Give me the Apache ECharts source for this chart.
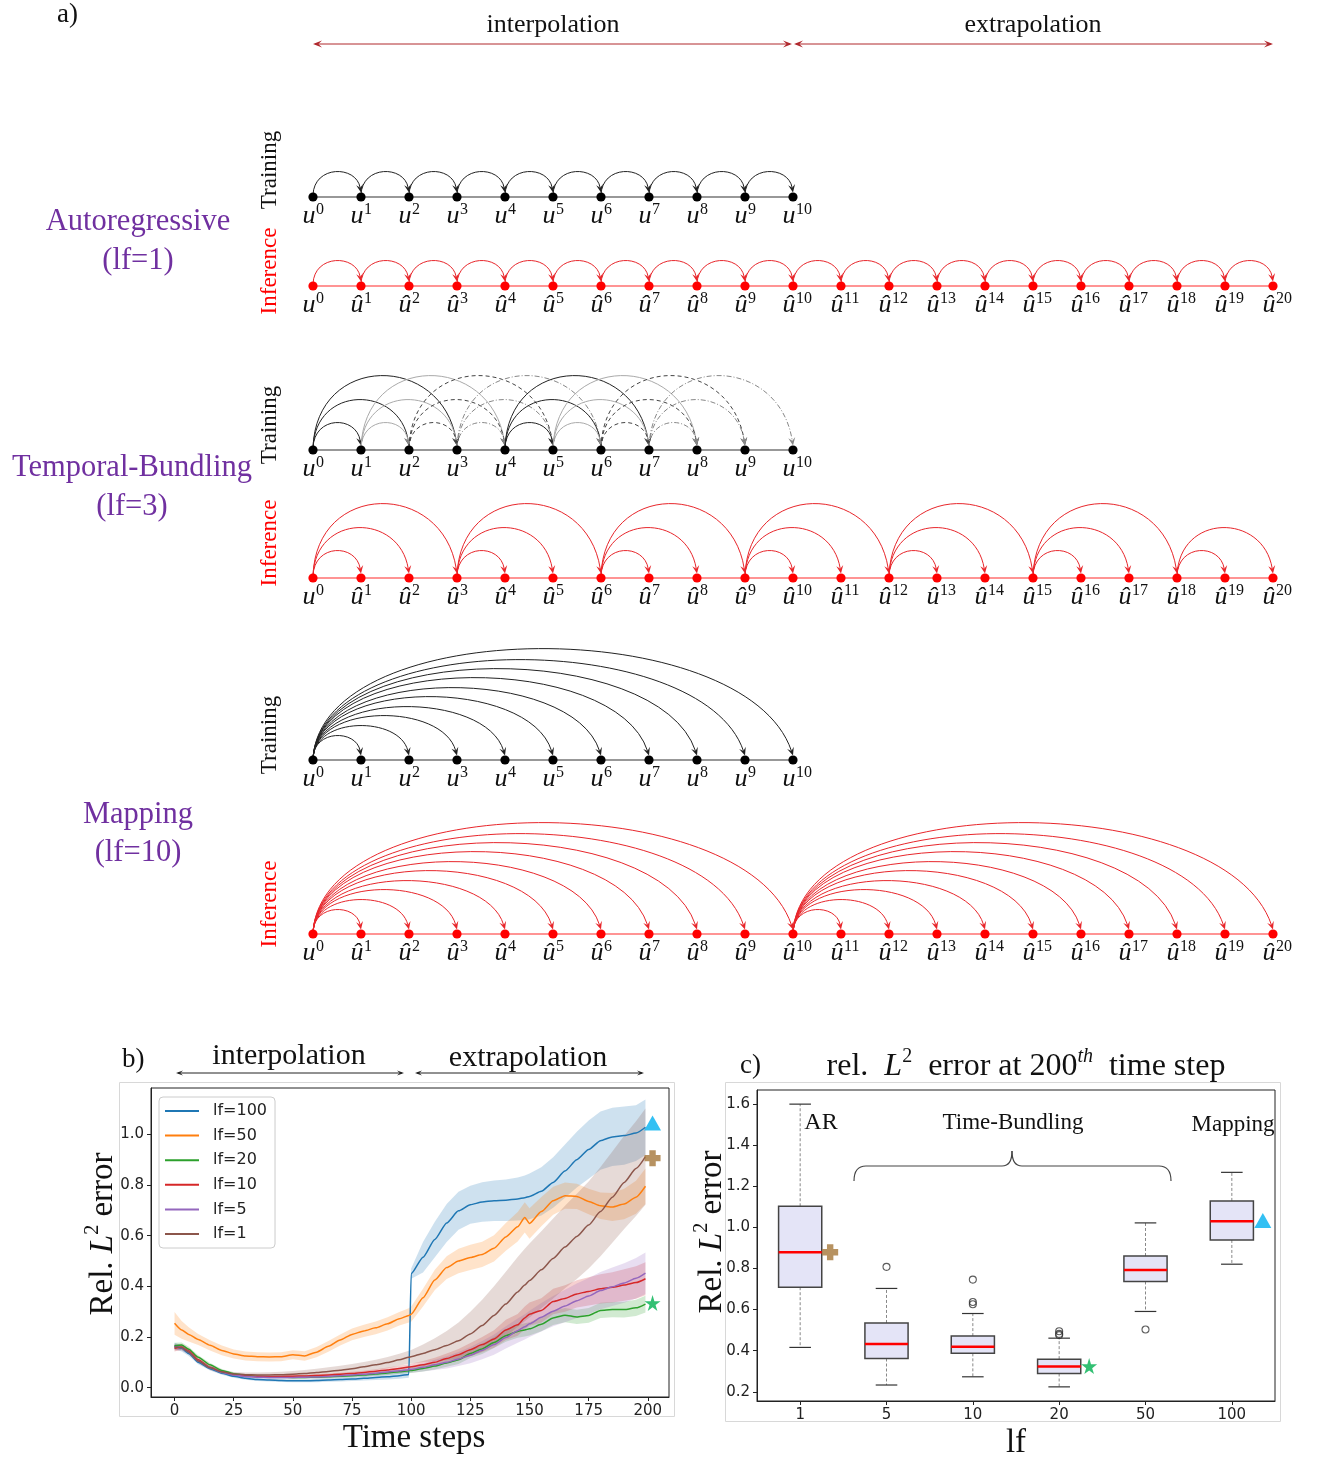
<!DOCTYPE html>
<html><head><meta charset="utf-8">
<script src="https://cdn.jsdelivr.net/npm/echarts@6/dist/echarts.min.js"></script>
<style>html,body{margin:0;padding:0;background:#fff}#c{width:1321px;height:1458px}</style>
</head><body><div id="c"></div><script>
// ---------------- DATA ----------------
// Panel a: time-step nodes and dependency edges [from, to]
const trainNodes = [0,1,2,3,4,5,6,7,8,9,10];
const inferNodes = [0,1,2,3,4,5,6,7,8,9,10,11,12,13,14,15,16,17,18,19,20];
const arTrainEdges = [[0,1],[1,2],[2,3],[3,4],[4,5],[5,6],[6,7],[7,8],[8,9],[9,10]];
const arInferEdges = [[0,1],[1,2],[2,3],[3,4],[4,5],[5,6],[6,7],[7,8],[8,9],[9,10],[10,11],[11,12],[12,13],[13,14],[14,15],[15,16],[16,17],[17,18],[18,19],[19,20]];
const tbTrainEdges = [[0,1],[0,2],[0,3],[1,2],[1,3],[1,4],[2,3],[2,4],[2,5],[3,4],[3,5],[3,6],[4,5],[4,6],[4,7],[5,6],[5,7],[5,8],[6,7],[6,8],[6,9],[7,8],[7,9],[7,10]];
const tbInferEdges = [[0,1],[0,2],[0,3],[3,4],[3,5],[3,6],[6,7],[6,8],[6,9],[9,10],[9,11],[9,12],[12,13],[12,14],[12,15],[15,16],[15,17],[15,18],[18,19],[18,20]];
const mapTrainEdges = [[0,1],[0,2],[0,3],[0,4],[0,5],[0,6],[0,7],[0,8],[0,9],[0,10]];
const mapInferEdges = [[0,1],[0,2],[0,3],[0,4],[0,5],[0,6],[0,7],[0,8],[0,9],[0,10],[10,11],[10,12],[10,13],[10,14],[10,15],[10,16],[10,17],[10,18],[10,19],[10,20]];

// Panel b: time steps, mean rel. L2 error and half band width per lf
const steps = [0,3,6,10,15,20,25,30,35,40,45,50,55,60,65,70,75,80,85,90,95,99,100,105,110,115,120,125,130,135,140,145,148,150,155,160,165,170,175,180,185,190,195,199];
const lfNames = ['lf=100','lf=50','lf=20','lf=10','lf=5','lf=1'];
const m100 = [0.165,0.155,0.135,0.100,0.075,0.057,0.045,0.037,0.032,0.030,0.028,0.027,0.027,0.028,0.030,0.032,0.034,0.037,0.040,0.043,0.047,0.052,0.450,0.515,0.585,0.650,0.698,0.722,0.733,0.738,0.740,0.745,0.750,0.755,0.775,0.810,0.855,0.900,0.940,0.975,0.990,0.995,1.005,1.028];
const s100 = [0.012,0.012,0.010,0.008,0.007,0.006,0.006,0.006,0.006,0.006,0.006,0.006,0.006,0.007,0.007,0.008,0.008,0.009,0.010,0.011,0.012,0.013,0.020,0.060,0.070,0.075,0.075,0.075,0.078,0.080,0.082,0.085,0.088,0.090,0.095,0.100,0.105,0.110,0.115,0.115,0.115,0.115,0.110,0.110];
const m50 = [0.254,0.228,0.210,0.190,0.167,0.147,0.133,0.125,0.122,0.121,0.122,0.130,0.125,0.140,0.163,0.188,0.210,0.224,0.236,0.252,0.272,0.285,0.290,0.355,0.425,0.474,0.500,0.514,0.526,0.550,0.595,0.635,0.672,0.648,0.695,0.738,0.758,0.755,0.735,0.718,0.713,0.725,0.752,0.795];
const s50 = [0.045,0.035,0.028,0.022,0.020,0.019,0.018,0.018,0.018,0.018,0.018,0.018,0.019,0.020,0.021,0.022,0.023,0.024,0.025,0.026,0.027,0.028,0.030,0.035,0.040,0.045,0.048,0.050,0.050,0.052,0.055,0.058,0.060,0.060,0.058,0.055,0.052,0.050,0.050,0.052,0.055,0.060,0.065,0.070];
const m20 = [0.165,0.168,0.152,0.120,0.090,0.068,0.055,0.048,0.044,0.042,0.041,0.040,0.040,0.041,0.043,0.045,0.047,0.050,0.054,0.058,0.063,0.067,0.068,0.076,0.085,0.097,0.110,0.135,0.153,0.178,0.205,0.222,0.228,0.232,0.250,0.275,0.286,0.279,0.285,0.305,0.308,0.308,0.315,0.330];
const s20 = [0.012,0.010,0.009,0.008,0.007,0.006,0.005,0.005,0.005,0.005,0.005,0.005,0.005,0.005,0.006,0.006,0.006,0.007,0.007,0.008,0.008,0.009,0.010,0.012,0.013,0.015,0.017,0.018,0.020,0.022,0.024,0.025,0.026,0.026,0.027,0.028,0.028,0.028,0.029,0.030,0.030,0.031,0.032,0.033];
const m10 = [0.155,0.160,0.145,0.110,0.080,0.062,0.051,0.046,0.044,0.043,0.044,0.045,0.046,0.048,0.050,0.053,0.056,0.060,0.065,0.070,0.076,0.081,0.082,0.090,0.100,0.115,0.130,0.150,0.170,0.192,0.228,0.248,0.275,0.290,0.305,0.340,0.352,0.370,0.380,0.390,0.396,0.405,0.415,0.430];
const s10 = [0.012,0.010,0.009,0.008,0.007,0.006,0.005,0.005,0.005,0.005,0.005,0.005,0.005,0.006,0.006,0.006,0.007,0.007,0.008,0.009,0.010,0.011,0.012,0.015,0.018,0.020,0.023,0.026,0.030,0.035,0.040,0.043,0.045,0.046,0.048,0.050,0.052,0.054,0.056,0.058,0.060,0.062,0.064,0.065];
const m5 = [0.160,0.158,0.140,0.105,0.078,0.060,0.050,0.044,0.041,0.040,0.040,0.040,0.041,0.042,0.044,0.047,0.050,0.053,0.057,0.062,0.067,0.071,0.072,0.080,0.090,0.100,0.113,0.128,0.148,0.170,0.198,0.225,0.240,0.252,0.278,0.302,0.322,0.343,0.362,0.383,0.398,0.413,0.432,0.452];
const s5 = [0.012,0.010,0.009,0.008,0.007,0.006,0.005,0.005,0.005,0.005,0.005,0.005,0.005,0.006,0.006,0.007,0.007,0.008,0.009,0.010,0.011,0.012,0.013,0.016,0.020,0.024,0.028,0.032,0.036,0.040,0.044,0.048,0.050,0.052,0.056,0.060,0.064,0.068,0.071,0.074,0.076,0.078,0.080,0.082];
const m1 = [0.160,0.158,0.140,0.105,0.078,0.062,0.054,0.051,0.050,0.050,0.051,0.053,0.056,0.060,0.064,0.069,0.075,0.082,0.090,0.099,0.110,0.120,0.122,0.135,0.150,0.166,0.185,0.212,0.245,0.285,0.330,0.378,0.405,0.423,0.465,0.510,0.555,0.597,0.642,0.695,0.752,0.810,0.865,0.912];
const s1 = [0.012,0.010,0.009,0.008,0.008,0.008,0.008,0.009,0.010,0.011,0.012,0.013,0.014,0.015,0.016,0.017,0.018,0.019,0.020,0.022,0.024,0.026,0.027,0.035,0.045,0.058,0.072,0.088,0.102,0.115,0.128,0.138,0.143,0.146,0.152,0.158,0.163,0.168,0.172,0.176,0.180,0.184,0.187,0.190];
const xTicksB = [0,25,50,75,100,125,150,175,200];
const yTicksB = [0,0.2,0.4,0.6,0.8,1.0];
const markBx = 202;
const markBTri = 1.045, markBPlus = 0.906, markBStar = 0.334;

// Panel c: box statistics of rel. L2 error at step 200
const boxCats = ['1','5','10','20','50','100'];
const boxLow  = [0.416,0.233,0.273,0.224,0.591,0.821];
const boxQ1   = [0.709,0.362,0.387,0.289,0.737,0.939];
const boxMed  = [0.879,0.433,0.419,0.323,0.793,1.030];
const boxQ3   = [1.103,0.535,0.471,0.359,0.861,1.129];
const boxHigh = [1.600,0.703,0.581,0.461,1.022,1.268];
const outliers = [[1,0.808],[2,0.746],[2,0.637],[2,0.626],[3,0.495],[3,0.482],[3,0.476],[4,0.503]];
const yTicksC = [0.2,0.4,0.6,0.8,1.0,1.2,1.4,1.6];
const markCPlus = [0,0.879], markCStar = [3,0.325], markCTri = [5,1.034];

// ---------------- STYLE / LAYOUT ----------------
const SERIF = '"Liberation Serif","DejaVu Serif",serif';
const SANS = '"DejaVu Sans",sans-serif';
const lfColors = ['#1f77b4','#ff7f0e','#2ca02c','#d62728','#9467bd','#8c564b'];
const means = [m100,m50,m20,m10,m5,m1];
const halfs = [s100,s50,s20,s10,s5,s1];
const arcH_AR = [24];
const arcH_TB = [26,49,73];
const arcH_MAP = [23,33,43,52,62,71,81,90,99,110];
const aRows = [
  {nodes:trainNodes, edges:arTrainEdges, heights:arcH_AR, kind:'train'},
  {nodes:inferNodes, edges:arInferEdges, heights:arcH_AR, kind:'infer'},
  {nodes:trainNodes, edges:tbTrainEdges, heights:arcH_TB, kind:'train', cycle:true},
  {nodes:inferNodes, edges:tbInferEdges, heights:arcH_TB, kind:'infer'},
  {nodes:trainNodes, edges:mapTrainEdges, heights:arcH_MAP, kind:'train'},
  {nodes:inferNodes, edges:mapInferEdges, heights:arcH_MAP, kind:'infer'}
];
const aRowY = [197,286,450,578,760,934];
const A_LEFT = 313, A_WIDTH = 960;
const PURPLE = '#7030a0';
const INF_RED = '#e8262b';
const TICK_FONT = 15;

function arcStyle(row, s) {
  if (row.kind === 'infer') return {stroke: INF_RED, lineDash: null};
  if (row.cycle) {
    const m = s % 4;
    if (m === 0) return {stroke:'#222', lineDash:null};
    if (m === 1) return {stroke:'#aaa', lineDash:null};
    if (m === 2) return {stroke:'#444', lineDash:[4,3]};
    return {stroke:'#888', lineDash:[5,2,1,2]};
  }
  return {stroke:'#222', lineDash:null};
}

function makeArcRender(row) {
  return function (params, api) {
    const a = api.value(0), b = api.value(2);
    const p0 = api.coord([a, 0]), p1 = api.coord([b, 0]);
    const span = p1[0] - p0[0];
    const h = row.heights[Math.min(b - a, row.heights.length) - 1];
    const c = h / 0.75;
    const st = arcStyle(row, a);
    const tip = [p1[0], p1[1] - 4.5];
    const c1 = [p0[0] + 0.02 * span, p0[1] - c];
    const c2 = [p1[0] - 0.1 * span, p1[1] - c];
    let dx = tip[0] - c2[0], dy = tip[1] - c2[1];
    const len = Math.hypot(dx, dy); dx /= len; dy /= len;
    const L = 8, W = 7, px = -dy, py = dx;
    const end = [tip[0] - dx * L * 0.6, tip[1] - dy * L * 0.6];
    const arrowCol = st.stroke === '#aaa' ? '#888' : st.stroke;
    return {type:'group', children:[
      {type:'bezierCurve', shape:{x1:p0[0], y1:p0[1]-2, x2:end[0], y2:end[1], cpx1:c1[0], cpy1:c1[1], cpx2:c2[0], cpy2:c2[1]},
        style:{stroke:st.stroke, lineWidth:1, lineDash:st.lineDash, fill:null}},
      {type:'polygon', shape:{points:[tip,[tip[0]-dx*L+px*W/2, tip[1]-dy*L+py*W/2],[tip[0]-dx*L*0.6, tip[1]-dy*L*0.6],[tip[0]-dx*L-px*W/2, tip[1]-dy*L-py*W/2]]},
        style:{fill:arrowCol}}
    ]};
  };
}

function makeNodeRender(row) {
  return function (params, api) {
    const n = api.value(0);
    const p = api.coord([n, 0]);
    const inf = row.kind === 'infer';
    const base = (inf && n !== 0) ? '\u00fb' : 'u';
    return {type:'group', children:[
      {type:'circle', shape:{cx:p[0], cy:p[1], r:4.6}, style:{fill: inf ? '#ff0000' : '#000'}},
      {type:'text', x:p[0]-4, y:p[1]+19, style:{text:base, fontFamily:SERIF, fontStyle:'italic', fontSize:26, fill:'#111', align:'center', verticalAlign:'middle'}},
      {type:'text', x:p[0]+3, y:p[1]+13, style:{text:String(n), fontFamily:SERIF, fontSize:16, fill:'#111', align:'left', verticalAlign:'middle'}}
    ]};
  };
}

function makeBandRender(i) {
  return function (params, api) {
    if (params.dataIndex !== 0) return null;
    const up = [], lo = [];
    for (let k = 0; k < steps.length; k++) {
      up.push(api.coord([steps[k], means[i][k] + halfs[i][k]]));
      lo.push(api.coord([steps[k], means[i][k] - halfs[i][k]]));
    }
    return {type:'polygon', shape:{points: up.concat(lo.reverse())}, style:{fill: lfColors[i], opacity: 0.22}};
  };
}

function boxRender(params, api) {
  const x = api.value(0);
  const lo = api.coord([x, api.value(1)]), q1 = api.coord([x, api.value(2)]), md = api.coord([x, api.value(3)]);
  const q3 = api.coord([x, api.value(4)]), hi = api.coord([x, api.value(5)]);
  const bw = api.size([1, 0])[0] * 0.5, cw = bw * 0.5, cx = md[0];
  const wh = {stroke:'#888', lineWidth:1, lineDash:[3,2]};
  const cap = {stroke:'#333', lineWidth:1.2};
  return {type:'group', children:[
    {type:'line', shape:{x1:cx, y1:q3[1], x2:cx, y2:hi[1]}, style:wh},
    {type:'line', shape:{x1:cx, y1:q1[1], x2:cx, y2:lo[1]}, style:wh},
    {type:'line', shape:{x1:cx-cw/2, y1:hi[1], x2:cx+cw/2, y2:hi[1]}, style:cap},
    {type:'line', shape:{x1:cx-cw/2, y1:lo[1], x2:cx+cw/2, y2:lo[1]}, style:cap},
    {type:'rect', shape:{x:cx-bw/2, y:q3[1], width:bw, height:q1[1]-q3[1]}, style:{fill:'#e4e4f7', stroke:'#444', lineWidth:1.5}},
    {type:'line', shape:{x1:cx-bw/2, y1:md[1], x2:cx+bw/2, y2:md[1]}, style:{stroke:'#ff0000', lineWidth:2.5}}
  ]};
}

// graphic helpers
function txt(x, y, text, o, extra) {
  return Object.assign({type:'text', x:x, y:y, silent:true, style:Object.assign({text:text, fill:'#111', fontFamily:SERIF, fontSize:24, align:'center', verticalAlign:'middle'}, o || {})}, extra || {});
}
function head(tx, ty, dx, dy, L, W, color) {
  const px = -dy, py = dx;
  return {type:'polygon', silent:true, shape:{points:[[tx,ty],[tx-dx*L+px*W/2, ty-dy*L+py*W/2],[tx-dx*L*0.6, ty-dy*L*0.6],[tx-dx*L-px*W/2, ty-dy*L-py*W/2]]}, style:{fill:color}};
}
function dblArrow(x1, x2, y, color, L, W) {
  return [
    {type:'line', silent:true, shape:{x1:x1+2, y1:y, x2:x2-2, y2:y}, style:{stroke:color, lineWidth:1}},
    head(x1, y, -1, 0, L, W, color), head(x2, y, 1, 0, L, W, color)
  ];
}
function richL2(size) {
  return {
    n:{fontFamily:SERIF, fontSize:size, lineHeight:size+8, fill:'#111'},
    i:{fontFamily:SERIF, fontStyle:'italic', fontSize:size, lineHeight:size+8, fill:'#111'},
    s:{fontFamily:SERIF, fontSize:Math.round(size*0.62), lineHeight:Math.round(size*0.62), verticalAlign:'top', fill:'#111'},
    t:{fontFamily:SERIF, fontStyle:'italic', fontSize:Math.round(size*0.62), lineHeight:Math.round(size*0.62), verticalAlign:'top', fill:'#111'}
  };
}
function qcurve(x1, y1, cx, cy, x2, y2) {
  return {type:'bezierCurve', silent:true, z:10, shape:{x1:x1, y1:y1, cpx1:cx, cpy1:cy, x2:x2, y2:y2}, style:{fill:null, stroke:'#444', lineWidth:1.2}};
}
function seg(x1, y1, x2, y2) {
  return {type:'line', silent:true, z:10, shape:{x1:x1, y1:y1, x2:x2, y2:y2}, style:{stroke:'#444', lineWidth:1.2}};
}

// ---------------- OPTION ----------------
const grid = [], xAxis = [], yAxis = [], series = [];
aRows.forEach(function (row, r) {
  grid.push({left:A_LEFT, width:A_WIDTH, top:aRowY[r]-200, height:200, show:false});
  xAxis.push({gridIndex:r, type:'value', min:0, max:20, show:false});
  yAxis.push({gridIndex:r, type:'value', min:0, max:1, show:false});
  const inf = row.kind === 'infer';
  series.push({type:'line', xAxisIndex:r, yAxisIndex:r, data:row.nodes.map(function(n){return [n,0];}), symbol:'none', clip:false, silent:true, z:1,
    lineStyle:{color: inf ? '#ff2a2a' : '#333', width:1.2}});
  series.push({type:'custom', xAxisIndex:r, yAxisIndex:r, coordinateSystem:'cartesian2d', clip:false, silent:true, z:2,
    data:row.edges.map(function(e){return [e[0],0,e[1]];}), encode:{x:0, y:1}, renderItem:makeArcRender(row)});
  series.push({type:'custom', xAxisIndex:r, yAxisIndex:r, coordinateSystem:'cartesian2d', clip:false, silent:true, z:3,
    data:row.nodes.map(function(n){return [n,0];}), encode:{x:0, y:1}, renderItem:makeNodeRender(row)});
});

// panel b
const GB = 6;
grid.push({left:151, top:1088, width:518, height:309, show:true, borderColor:'#222', borderWidth:1, backgroundColor:'#fff'});
xAxis.push({gridIndex:GB, type:'value', min:-9.95, max:208.95,
  axisLine:{show:true, onZero:false, lineStyle:{color:'#222'}}, splitLine:{show:false},
  axisTick:{show:true, length:4, lineStyle:{color:'#222'}, customValues:xTicksB},
  axisLabel:{customValues:xTicksB, fontFamily:SANS, fontSize:TICK_FONT, color:'#222', margin:7}});
yAxis.push({gridIndex:GB, type:'value', min:-0.037, max:1.183,
  axisLine:{show:true, onZero:false, lineStyle:{color:'#222'}}, splitLine:{show:false},
  axisTick:{show:true, length:4, lineStyle:{color:'#222'}, customValues:yTicksB},
  axisLabel:{customValues:yTicksB, fontFamily:SANS, fontSize:TICK_FONT, color:'#222', margin:7, formatter:function(v){return v.toFixed(1);}}});
lfNames.forEach(function (nm, i) {
  series.push({type:'custom', xAxisIndex:GB, yAxisIndex:GB, coordinateSystem:'cartesian2d', clip:true, silent:true, z:1,
    data:steps.map(function(t,k){return [t, means[i][k]];}), encode:{x:0, y:1}, renderItem:makeBandRender(i)});
});
lfNames.forEach(function (nm, i) {
  series.push({type:'line', name:nm, xAxisIndex:GB, yAxisIndex:GB, z:3, showSymbol:false, symbol:'none', smooth:0.2, smoothMonotone:'x',
    color:lfColors[i], lineStyle:{color:lfColors[i], width:1.5},
    data:steps.map(function(t,k){return [t, means[i][k]];})});
});
const starPath = 'path://M50,0 L61,35 L98,35 L68,57 L79,91 L50,70 L21,91 L32,57 L2,35 L39,35 Z';
const plusPath = 'path://M3,0H7V3H10V7H7V10H3V7H0V3H3Z';
series.push({type:'scatter', xAxisIndex:GB, yAxisIndex:GB, clip:false, silent:true, z:5, symbol:'triangle', symbolSize:[17,15], itemStyle:{color:'#00b0f0'}, data:[[markBx, markBTri]]});
series.push({type:'scatter', xAxisIndex:GB, yAxisIndex:GB, clip:false, silent:true, z:5, symbol:plusPath, symbolSize:16, itemStyle:{color:'#a5773a'}, data:[[markBx, markBPlus]]});
series.push({type:'scatter', xAxisIndex:GB, yAxisIndex:GB, clip:false, silent:true, z:5, symbol:starPath, symbolSize:16, itemStyle:{color:'#00b050'}, data:[[markBx, markBStar]]});

// panel c
const GC = 7;
grid.push({left:757, top:1090, width:518, height:311, show:true, borderColor:'#222', borderWidth:1, backgroundColor:'#fff'});
xAxis.push({gridIndex:GC, type:'category', data:boxCats, boundaryGap:true,
  axisLine:{show:true, onZero:false, lineStyle:{color:'#222'}}, splitLine:{show:false},
  axisTick:{show:true, alignWithLabel:true, length:4, lineStyle:{color:'#222'}},
  axisLabel:{fontFamily:SANS, fontSize:TICK_FONT, color:'#222', margin:7}});
yAxis.push({gridIndex:GC, type:'value', min:0.1552, max:1.6688,
  axisLine:{show:true, onZero:false, lineStyle:{color:'#222'}}, splitLine:{show:false},
  axisTick:{show:true, length:4, lineStyle:{color:'#222'}, customValues:yTicksC},
  axisLabel:{customValues:yTicksC, fontFamily:SANS, fontSize:TICK_FONT, color:'#222', margin:7, formatter:function(v){return v.toFixed(1);}}});
series.push({type:'custom', xAxisIndex:GC, yAxisIndex:GC, coordinateSystem:'cartesian2d', silent:true, z:2,
  data:boxCats.map(function(c,i){return [i, boxLow[i], boxQ1[i], boxMed[i], boxQ3[i], boxHigh[i]];}),
  encode:{x:0, y:[1,2,3,4,5]}, renderItem:boxRender});
series.push({type:'scatter', xAxisIndex:GC, yAxisIndex:GC, silent:true, z:3, symbol:'circle', symbolSize:7,
  itemStyle:{color:'rgba(255,255,255,0)', borderColor:'#333', borderWidth:1.1}, data:outliers});
series.push({type:'scatter', xAxisIndex:GC, yAxisIndex:GC, clip:false, silent:true, z:5, symbol:plusPath, symbolSize:16, symbolOffset:[30,0], itemStyle:{color:'#a5773a'}, data:[markCPlus]});
series.push({type:'scatter', xAxisIndex:GC, yAxisIndex:GC, clip:false, silent:true, z:5, symbol:starPath, symbolSize:16, symbolOffset:[30,0], itemStyle:{color:'#00b050'}, data:[markCStar]});
series.push({type:'scatter', xAxisIndex:GC, yAxisIndex:GC, clip:false, silent:true, z:5, symbol:'triangle', symbolSize:[17,15], symbolOffset:[31,0], itemStyle:{color:'#00b0f0'}, data:[markCTri]});

// graphics (labels / decorations)
const A_MID = A_LEFT + A_WIDTH / 2, A_RIGHT = A_LEFT + A_WIDTH;
let g = [];
g.push(txt(57, 15, 'a)', {fontSize:27, align:'left'}));
g = g.concat(dblArrow(A_LEFT, A_MID - 1, 44, '#b0282d', 9, 7));
g = g.concat(dblArrow(A_MID + 1, A_RIGHT, 44, '#b0282d', 9, 7));
g.push(txt((A_LEFT + A_MID) / 2, 25, 'interpolation', {fontSize:26}));
g.push(txt((A_MID + A_RIGHT) / 2, 25, 'extrapolation', {fontSize:26}));
const rowLabelY = [[170,'Training'],[271,'Inference'],[425,'Training'],[543,'Inference'],[735,'Training'],[904,'Inference']];
rowLabelY.forEach(function (d) {
  g.push(txt(270, d[0], d[1], {fontSize:23, fill: d[1] === 'Inference' ? '#ff0000' : '#111'}, {rotation: Math.PI / 2}));
});
g.push(txt(138, 222, 'Autoregressive', {fontSize:30.5, fill:PURPLE}));
g.push(txt(138, 261, '(lf=1)', {fontSize:30.5, fill:PURPLE}));
g.push(txt(132, 468, 'Temporal-Bundling', {fontSize:30.5, fill:PURPLE}));
g.push(txt(132, 507, '(lf=3)', {fontSize:30.5, fill:PURPLE}));
g.push(txt(138, 815, 'Mapping', {fontSize:30.5, fill:PURPLE}));
g.push(txt(138, 853, '(lf=10)', {fontSize:30.5, fill:PURPLE}));
// panel b decorations
g.push({type:'rect', silent:true, z:-1, shape:{x:119.5, y:1082.5, width:555, height:334}, style:{fill:'none', stroke:'#d8d8d8', lineWidth:1}});
g.push(txt(122, 1060, 'b)', {fontSize:27, align:'left'}));
g.push(txt(289, 1056, 'interpolation', {fontSize:30}));
g.push(txt(528, 1058, 'extrapolation', {fontSize:30}));
g = g.concat(dblArrow(176, 404, 1073, '#222', 7, 5));
g = g.concat(dblArrow(415, 644, 1073, '#222', 7, 5));
g.push(txt(103, 1234, '{n|Rel. }{i|L}{s|2}{n| error}', {rich:richL2(33)}, {rotation: Math.PI / 2}));
g.push(txt(414, 1438, 'Time steps', {fontSize:33}));
// panel c decorations
g.push({type:'rect', silent:true, z:-1, shape:{x:725.5, y:1082.5, width:555, height:339}, style:{fill:'none', stroke:'#d8d8d8', lineWidth:1}});
g.push(txt(740, 1066, 'c)', {fontSize:27, align:'left'}));
g.push(txt(1026, 1067, '{n|rel.  }{i|L}{s|2}{n|  error at 200}{t|th}{n|  time step}', {rich:richL2(32)}));
g.push(txt(712, 1232, '{n|Rel. }{i|L}{s|2}{n| error}', {rich:richL2(33)}, {rotation: Math.PI / 2}));
g.push(txt(1016, 1443, 'lf', {fontSize:33}));
g.push(txt(821, 1123, 'AR', {fontSize:24}));
g.push(txt(1013, 1123, 'Time-Bundling', {fontSize:23}));
g.push(txt(1233, 1125, 'Mapping', {fontSize:23}));
// curly brace over the time-bundling boxes
g.push(qcurve(854, 1181, 854, 1166, 866, 1166));
g.push(seg(866, 1166, 1002, 1166));
g.push(qcurve(1002, 1166, 1012, 1166, 1012, 1151));
g.push(qcurve(1012, 1151, 1012, 1166, 1022, 1166));
g.push(seg(1022, 1166, 1159, 1166));
g.push(qcurve(1159, 1166, 1171, 1166, 1171, 1181));

const option = {
  animation:false,
  backgroundColor:'#fff',
  grid:grid, xAxis:xAxis, yAxis:yAxis, series:series,
  legend:{data:lfNames, orient:'vertical', left:159, top:1097, icon:'rect', itemWidth:34, itemHeight:2, itemGap:4.6,
    padding:[4,8,4,6], backgroundColor:'#fff', borderColor:'#ccc', borderWidth:1, borderRadius:4, selectedMode:false,
    textStyle:{fontFamily:SANS, fontSize:16, color:'#222', lineHeight:20, padding:[0,0,0,9]}},
  graphic:{elements:g}
};
const chart = echarts.init(document.getElementById('c'), null, {renderer:'canvas', width:1321, height:1458});
chart.setOption(option);
</script></body></html>
